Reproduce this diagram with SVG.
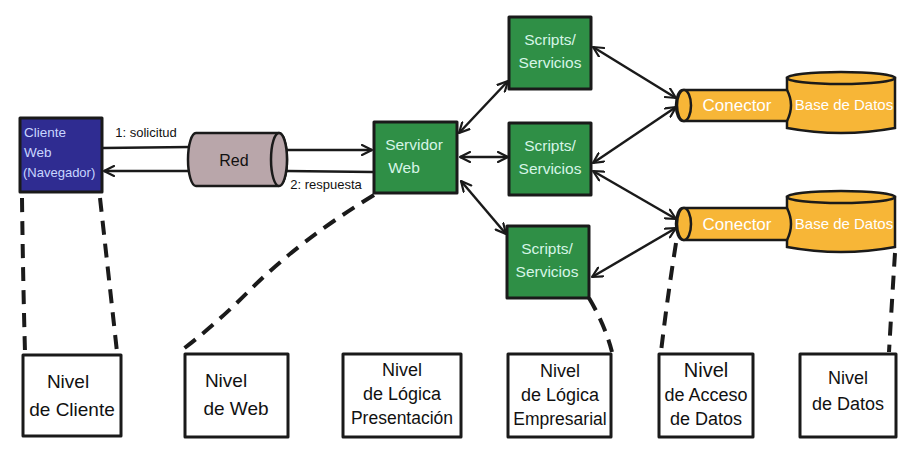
<svg xmlns="http://www.w3.org/2000/svg" width="905" height="456" viewBox="0 0 905 456">
<defs>
<style>
.bx{stroke:#1a1a1a;stroke-width:3;stroke-linejoin:round}
.green{fill:#2f8f46}
.lvl{fill:#fff}
.t{font-family:"Liberation Sans",Arial,sans-serif;text-anchor:middle}
.gt{fill:#d6f5e6;font-size:15.5px}
.lt{fill:#111}
.yt{fill:#fff}
.ln{stroke:#1a1a1a;stroke-width:2.5;fill:none}
.dash{stroke:#1a1a1a;stroke-width:4;fill:none;stroke-dasharray:14 9}
.cyl{fill:#f7b637;stroke:#1a1a1a;stroke-width:2.5}
</style>
<marker id="ah" viewBox="0 0 12 12" refX="11" refY="6" markerWidth="12" markerHeight="12" markerUnits="userSpaceOnUse" orient="auto-start-reverse">
<path d="M1,1 L11,6 L1,11" fill="none" stroke="#1a1a1a" stroke-width="2.2" stroke-linecap="round" stroke-linejoin="round"/>
</marker>
</defs>
<rect width="905" height="456" fill="#fff"/>

<g id="connectors">
<line class="ln" x1="103" y1="148" x2="190" y2="147"/>
<line class="ln" x1="287" y1="150" x2="372" y2="150" marker-end="url(#ah)"/>
<line class="ln" x1="373" y1="172" x2="287" y2="171"/>
<line class="ln" x1="190" y1="171" x2="104" y2="171" marker-end="url(#ah)"/>
<line class="ln" x1="459" y1="133" x2="508" y2="81" marker-start="url(#ah)" marker-end="url(#ah)"/>
<line class="ln" x1="460" y1="157" x2="508" y2="157" marker-start="url(#ah)" marker-end="url(#ah)"/>
<line class="ln" x1="461" y1="181" x2="506" y2="234" marker-start="url(#ah)" marker-end="url(#ah)"/>
<line class="ln" x1="593" y1="47" x2="676" y2="98" marker-start="url(#ah)" marker-end="url(#ah)"/>
<line class="ln" x1="593" y1="163" x2="676" y2="107" marker-start="url(#ah)" marker-end="url(#ah)"/>
<line class="ln" x1="593" y1="171" x2="676" y2="219" marker-start="url(#ah)" marker-end="url(#ah)"/>
<line class="ln" x1="592" y1="277" x2="676" y2="228" marker-start="url(#ah)" marker-end="url(#ah)"/>
<path class="dash" d="M22,198 Q23,280 25,352"/>
<path class="dash" d="M100,198 Q108,270 117,352"/>
<path class="dash" d="M374,195 Q300,240 250,290 Q215,325 182,350"/>
<path class="dash" d="M589,298 Q605,325 612,352"/>
<path class="dash" d="M676,243 Q667,300 661,352"/>
<path class="dash" d="M895,253 Q892,300 889,352"/>
<text class="t" x="146" y="137" style="font-size:13px" fill="#111">1: solicitud</text>
<text class="t" x="326" y="189" style="font-size:13px" fill="#111">2: respuesta</text>
</g>

<g id="cliente">
<rect class="bx" x="20" y="118" width="82" height="74" fill="#2f2c91"/>
<text x="24" y="137" font-family="Liberation Sans,Arial,sans-serif" font-size="13.5" fill="#c9d6ff">Cliente</text>
<text x="24" y="157" font-family="Liberation Sans,Arial,sans-serif" font-size="13.5" fill="#c9d6ff">Web</text>
<text x="23" y="177" font-family="Liberation Sans,Arial,sans-serif" font-size="13" fill="#c9d6ff">(Navegador)</text>
</g>

<g id="red">
<path d="M196,133 L279,133 A8,26.5 0 0 1 279,186 L196,186 A8,26.5 0 0 1 196,133 Z" fill="#b9a6aa" stroke="#1a1a1a" stroke-width="2.5"/>
<ellipse cx="279" cy="159.5" rx="8" ry="26.5" fill="#b9a6aa" stroke="#1a1a1a" stroke-width="2.5"/>
<text class="t" x="234" y="166" style="font-size:16px" fill="#111">Red</text>
</g>

<g id="servidor">
<rect class="bx green" x="374" y="122" width="83" height="71"/>
<text class="t gt" x="414" y="150">Servidor</text>
<text class="t gt" x="404" y="173">Web</text>
</g>

<g id="scripts1">
<rect class="bx green" x="509" y="17" width="82" height="72"/>
<text class="t gt" x="550" y="45">Scripts/</text>
<text class="t gt" x="550" y="68">Servicios</text>
</g>
<g id="scripts2">
<rect class="bx green" x="509" y="123" width="82" height="72"/>
<text class="t gt" x="550" y="151">Scripts/</text>
<text class="t gt" x="550" y="174">Servicios</text>
</g>
<g id="scripts3">
<rect class="bx green" x="507" y="226" width="82" height="72"/>
<text class="t gt" x="547" y="254">Scripts/</text>
<text class="t gt" x="547" y="277">Servicios</text>
</g>

<g id="bd1">
<path class="cyl" d="M787,78 L787,128 Q841,138 895,128 L895,78 Z"/>
<ellipse class="cyl" cx="841" cy="78" rx="54" ry="6"/>
<text class="t yt" x="844" y="110" style="font-size:15px">Base de Datos</text>
</g>
<g id="conector1">
<path class="cyl" d="M683,90 L787,90 Q795,105 787,121 L683,121 A7,15.5 0 0 1 683,90 Z"/>
<ellipse class="cyl" cx="684" cy="105.5" rx="7" ry="15.5"/>
<text class="t yt" x="737" y="111" style="font-size:17px">Conector</text>
</g>

<g id="bd2">
<path class="cyl" d="M787,197 L787,247 Q841,257 895,247 L895,197 Z"/>
<ellipse class="cyl" cx="841" cy="197" rx="54" ry="6"/>
<text class="t yt" x="844" y="229" style="font-size:15px">Base de Datos</text>
</g>
<g id="conector2">
<path class="cyl" d="M683,208 L787,208 Q795,224 787,240 L683,240 A7,16 0 0 1 683,208 Z"/>
<ellipse class="cyl" cx="684" cy="224" rx="7" ry="16"/>
<text class="t yt" x="737" y="230" style="font-size:17px">Conector</text>
</g>

<g id="nivel-cliente">
<rect class="bx lvl" x="23" y="355" width="98" height="81"/>
<text class="t lt" x="68" y="388" style="font-size:19px">Nivel</text>
<text class="t lt" x="72" y="416" style="font-size:19px">de Cliente</text>
</g>
<g id="nivel-web">
<rect class="bx lvl" x="185" y="354" width="103" height="83"/>
<text class="t lt" x="226" y="387" style="font-size:19px">Nivel</text>
<text class="t lt" x="236" y="415" style="font-size:19px">de Web</text>
</g>
<g id="nivel-presentacion">
<rect class="bx lvl" x="343" y="354" width="118" height="83"/>
<text class="t lt" x="402" y="376" style="font-size:18px">Nivel</text>
<text class="t lt" x="402" y="400" style="font-size:18px">de Lógica</text>
<text class="t lt" x="402" y="424" style="font-size:17.5px">Presentación</text>
</g>
<g id="nivel-empresarial">
<rect class="bx lvl" x="508" y="354" width="103" height="83"/>
<text class="t lt" x="560" y="377" style="font-size:18px">Nivel</text>
<text class="t lt" x="560" y="401" style="font-size:18px">de Lógica</text>
<text class="t lt" x="560" y="425" style="font-size:17.5px">Empresarial</text>
</g>
<g id="nivel-acceso">
<rect class="bx lvl" x="659" y="354" width="94" height="83"/>
<text class="t lt" x="706" y="377" style="font-size:20px">Nivel</text>
<text class="t lt" x="706" y="401" style="font-size:18px">de Acceso</text>
<text class="t lt" x="706" y="425" style="font-size:18px">de Datos</text>
</g>
<g id="nivel-datos">
<rect class="bx lvl" x="800" y="354" width="96" height="83"/>
<text class="t lt" x="848" y="384" style="font-size:18px">Nivel</text>
<text class="t lt" x="848" y="410" style="font-size:18px">de Datos</text>
</g>
</svg>
